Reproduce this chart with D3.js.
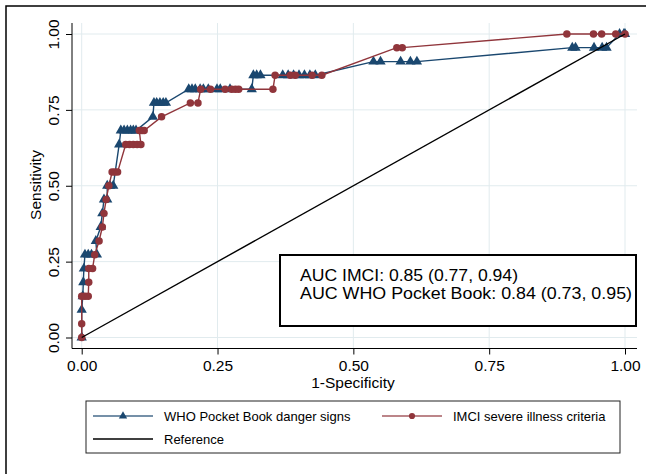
<!DOCTYPE html>
<html>
<head>
<meta charset="utf-8">
<script src="https://cdn.jsdelivr.net/npm/d3@7"></script>
<style>
  body { margin: 0; background: #fff; }
  svg { display: block; font-family: "Liberation Sans", Arial, Helvetica, sans-serif; }
</style>
</head>
<body>
<svg id="chart" width="646" height="474"></svg>
<script>
"use strict";

// WHO Pocket Book danger signs (1-specificity, sensitivity)
var whoX = [0, 0, 0.002, 0.003, 0.004, 0.006, 0.012, 0.018, 0.028, 0.026, 0.035, 0.038, 0.041, 0.047, 0.047, 0.052, 0.058,
  0.069, 0.072, 0.078, 0.084, 0.09, 0.095, 0.1, 0.131, 0.133, 0.138, 0.144, 0.15, 0.155,
  0.197, 0.203, 0.209, 0.218, 0.224, 0.233, 0.249, 0.255, 0.273, 0.313,
  0.316, 0.322, 0.329, 0.37, 0.38, 0.39, 0.4, 0.41, 0.42, 0.43,
  0.537, 0.55, 0.587, 0.605, 0.617, 0.903, 0.909, 0.943, 0.958, 0.966, 0.99, 0.998, 1];
var whoY = [0, 0.091, 0.136, 0.182, 0.227, 0.273, 0.273, 0.273, 0.273, 0.318, 0.364, 0.409, 0.455, 0.455, 0.5, 0.5, 0.5,
  0.636, 0.682, 0.682, 0.682, 0.682, 0.682, 0.682, 0.727, 0.773, 0.773, 0.773, 0.773, 0.773,
  0.818, 0.818, 0.818, 0.818, 0.818, 0.818, 0.818, 0.818, 0.818, 0.818,
  0.864, 0.864, 0.864, 0.864, 0.864, 0.864, 0.864, 0.864, 0.864, 0.864,
  0.909, 0.909, 0.909, 0.909, 0.909, 0.955, 0.955, 0.955, 0.955, 0.955, 1, 1, 1];

// IMCI severe illness criteria
var imciX = [0, 0, 0, 0.006, 0.012, 0.013, 0.013, 0.02, 0.024, 0.032, 0.038, 0.041, 0.045, 0.05, 0.056, 0.061, 0.066,
  0.081, 0.088, 0.095, 0.102, 0.109, 0.106, 0.111, 0.115, 0.147, 0.2, 0.214,
  0.219, 0.237, 0.264, 0.276, 0.283, 0.289, 0.352, 0.356, 0.384, 0.393, 0.424, 0.442,
  0.58, 0.59, 0.893, 0.942, 0.957, 0.983, 1];
var imciY = [0, 0.045, 0.136, 0.136, 0.136, 0.182, 0.227, 0.227, 0.273, 0.318, 0.364, 0.409, 0.455, 0.5, 0.545, 0.545, 0.545,
  0.636, 0.636, 0.636, 0.636, 0.636, 0.682, 0.682, 0.682, 0.727, 0.773, 0.773,
  0.818, 0.818, 0.818, 0.818, 0.818, 0.818, 0.818, 0.864, 0.864, 0.864, 0.864, 0.864,
  0.955, 0.955, 1, 1, 1, 1, 1];

var refX = [0, 1];
var refY = [0, 1];

var tickVals = [0, 0.25, 0.5, 0.75, 1];
var tickLabels = ["0.00", "0.25", "0.50", "0.75", "1.00"];
var aucLines = ["AUC IMCI: 0.85 (0.77, 0.94)", "AUC WHO Pocket Book: 0.84 (0.73, 0.95)"];
var legendNames = ["WHO Pocket Book danger signs", "IMCI severe illness criteria", "Reference"];

var blue = "#1a476f", red = "#90353b";

var svg = d3.select("#chart");

// outer frame (runs off the right and bottom edge)
svg.append("rect").attr("x", 6).attr("y", 6).attr("width", 700).attr("height", 520)
  .attr("fill", "none").attr("stroke", "#000").attr("stroke-width", 1.5);

var pLeft = 72, pRight = 637, pTop = 23, pBottom = 348.5;
var x = d3.scaleLinear().domain([0, 1]).range([81.7, 625]);
var y = d3.scaleLinear().domain([0, 1]).range([337.5, 34]);

// grid
var grid = svg.append("g").attr("stroke", "#e1ebee").attr("stroke-width", 1);
tickVals.forEach(function(v){
  grid.append("line").attr("x1", pLeft).attr("x2", pRight).attr("y1", y(v)).attr("y2", y(v));
  grid.append("line").attr("y1", pTop).attr("y2", pBottom).attr("x1", x(v)).attr("x2", x(v));
});

// axes
var fmt = function(d, i){ return tickLabels[i]; };
var xAxis = svg.append("g").attr("transform", "translate(0," + pBottom + ")")
  .call(d3.axisBottom(x).tickValues(tickVals).tickFormat(fmt).tickSize(6).tickPadding(3));
var yAxis = svg.append("g").attr("transform", "translate(" + pLeft + ",0)")
  .call(d3.axisLeft(y).tickValues(tickVals).tickFormat(fmt).tickSize(6).tickPadding(3));
[xAxis, yAxis].forEach(function(a){
  a.select(".domain").remove();
  a.selectAll("text").attr("font-size", 15.5).attr("font-family", null).attr("fill", "#000");
  a.selectAll("line").attr("stroke", "#000");
});
yAxis.selectAll(".tick text")
  .attr("x", null).attr("dy", null)
  .attr("text-anchor", "middle")
  .attr("transform", "translate(-13.5,0) rotate(-90)");
xAxis.selectAll(".tick text").attr("dy", "0.9em");

svg.append("line").attr("x1", pLeft).attr("x2", pLeft).attr("y1", pTop).attr("y2", pBottom)
  .attr("stroke", "#000").attr("stroke-width", 1);
svg.append("line").attr("x1", pLeft).attr("x2", pRight).attr("y1", pBottom).attr("y2", pBottom)
  .attr("stroke", "#000").attr("stroke-width", 1);

svg.append("text").attr("x", 353).attr("y", 388).attr("text-anchor", "middle")
  .attr("font-size", 15.5).text("1-Specificity");
svg.append("text").attr("transform", "translate(41,185) rotate(-90)").attr("text-anchor", "middle")
  .attr("font-size", 15.5).text("Sensitivity");

// curves
function series(xs, ys, color, symbol, size) {
  var pts = xs.map(function(v, i){ return [v, ys[i]]; });
  var g = svg.append("g");
  g.append("path").datum(pts)
    .attr("d", d3.line().x(function(d){ return x(d[0]); }).y(function(d){ return y(d[1]); }))
    .attr("fill", "none").attr("stroke", color).attr("stroke-width", 1.4);
  if (symbol) {
    g.selectAll("path.m").data(pts).enter().append("path").attr("class", "m")
      .attr("transform", function(d){ return "translate(" + x(d[0]) + "," + y(d[1]) + ")"; })
      .attr("d", d3.symbol().type(symbol).size(size))
      .attr("fill", color);
  }
}
series(whoX, whoY, blue, d3.symbolTriangle, 46);
series(imciX, imciY, red, d3.symbolCircle, 44);
series(refX, refY, "#000", null);

// AUC box
svg.append("rect").attr("x", 280).attr("y", 255).attr("width", 356).attr("height", 71)
  .attr("fill", "#fff").attr("stroke", "#000").attr("stroke-width", 2);
var aucWidths = [218, 332];
aucLines.forEach(function(t, i){
  svg.append("text").attr("x", 300).attr("y", 280.5 + i * 18.6).attr("font-size", 16)
    .attr("textLength", aucWidths[i]).attr("lengthAdjust", "spacingAndGlyphs").text(t);
});

// legend
svg.append("rect").attr("x", 86).attr("y", 401).attr("width", 534).attr("height", 52)
  .attr("fill", "#fff").attr("stroke", "#222").attr("stroke-width", 1);
var legItems = [
  {x: 93, y: 416, color: blue, sym: d3.symbolTriangle},
  {x: 382, y: 416, color: red, sym: d3.symbolCircle},
  {x: 93, y: 439, color: "#000", sym: null}
];
legItems.forEach(function(it, i){
  var g = svg.append("g").attr("transform", "translate(" + it.x + "," + it.y + ")");
  g.append("line").attr("x1", 0).attr("x2", 60).attr("stroke", it.color)
    .attr("stroke-width", 1.3).attr("stroke-opacity", it.sym ? 0.8 : 1);
  if (it.sym) {
    g.append("path").attr("transform", "translate(30,0)")
      .attr("d", d3.symbol().type(it.sym).size(30)).attr("fill", it.color);
  }
  g.append("text").attr("x", 71).attr("y", 4.5).attr("font-size", 13).text(legendNames[i]);
});
</script>
</body>
</html>
